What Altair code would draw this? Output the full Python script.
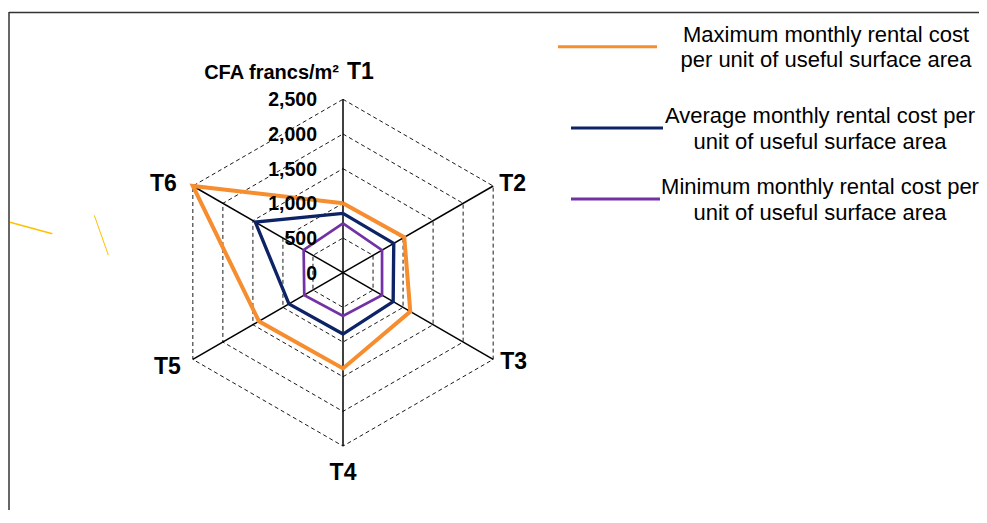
import altair as alt
import pandas as pd

# ---------------- data ----------------
axis_labels = ["T1", "T2", "T3", "T4", "T5", "T6"]
max_values = [1000, 1020, 1120, 1380, 1400, 2500]
avg_values = [855, 845, 835, 885, 900, 1460]
min_values = [710, 650, 650, 625, 645, 655]
series_keys = ["max", "avg", "min"]
series_labels = [
    "Maximum monthly rental cost\nper unit of useful surface area",
    "Average monthly rental cost per\nunit  of useful surface area",
    "Minimum monthly rental cost per\nunit of useful surface  area",
]
series_colors = ["#F68D2E", "#0E2366", "#7232A5"]
grid_levels = [500, 1000, 1500, 2000, 2500]
tick_values = [0, 500, 1000, 1500, 2000, 2500]
unit_label = "CFA francs/m²"
r_max = 2500

# ---------------- layout ----------------
PAD_L, PAD_T = 1, 4
W, H = 970, 498
CX, CY = 343 - 8 - PAD_L, 272.7 - 8 - PAD_T
R_PX = 173.4
k = R_PX / r_max
xscale = alt.Scale(domain=[-CX / k, (W - CX) / k], nice=False, zero=False)
yscale = alt.Scale(domain=[-(H - CY) / k, CY / k], nice=False, zero=False)
FONT = "Liberation Sans"

def pol(ch):
    return ch.transform_calculate(
        ang="PI/2 - datum.idx*PI/3",
        x="datum.value*cos(datum.ang)",
        y="datum.value*sin(datum.ang)",
    )

X = alt.X("x:Q", scale=xscale, axis=None)
Y = alt.Y("y:Q", scale=yscale, axis=None)

# series
rows = []
for key, vals in zip(series_keys, [max_values, avg_values, min_values]):
    for i in range(7):
        rows.append({"series": key, "idx": i, "value": vals[i % 6]})
series_df = pd.DataFrame(rows)

# grid
grid_df = pd.DataFrame([{"level": lv, "idx": i, "value": lv} for lv in grid_levels for i in range(7)])
spoke_df = pd.DataFrame([{"idx": i, "value": v} for i in range(6) for v in (0, r_max)])
tick_df = pd.DataFrame({"tick": tick_values})
lab_df = pd.DataFrame({"label": axis_labels, "idx": list(range(6)), "value": [r_max] * 6})

grid = pol(alt.Chart(grid_df)).mark_line(
    color="black", strokeWidth=0.9, strokeDash=[4, 3]
).encode(x=X, y=Y, order="idx:Q", detail="level:N")

spokes = pol(alt.Chart(spoke_df)).mark_line(color="black", strokeWidth=1.5).encode(
    x=X, y=Y, detail="idx:N", order="value:Q"
)

lines = pol(alt.Chart(series_df)).mark_line(strokeJoin="miter").encode(
    x=X, y=Y, order="idx:Q",
    color=alt.Color("series:N", scale=alt.Scale(domain=series_keys, range=series_colors), legend=None),
    strokeWidth=alt.StrokeWidth("series:N", scale=alt.Scale(domain=series_keys, range=[4, 2.7, 2.7]), legend=None),
)

ticks = alt.Chart(tick_df).transform_calculate(x="0", y="datum.tick").mark_text(
    align="right", baseline="middle", dx=-26, dy=1, font=FONT, fontSize=19.5, fontWeight="bold", color="black"
).encode(x=X, y=Y, text=alt.Text("tick:Q", format=","))

def axlab(i, **kw):
    return pol(alt.Chart(lab_df).transform_filter(f"datum.idx == {i}")).mark_text(
        font=FONT, fontSize=23, fontWeight="bold", color="black", **kw
    ).encode(x=X, y=Y, text="label:N")

labs = [
    axlab(0, align="left", baseline="alphabetic", dx=4, dy=-20),
    axlab(1, align="left", baseline="middle", dx=6, dy=-2),
    axlab(2, align="left", baseline="middle", dx=7, dy=3),
    axlab(3, align="center", baseline="middle", dy=27),
    axlab(4, align="right", baseline="middle", dx=-12, dy=8),
    axlab(5, align="right", baseline="middle", dx=-16, dy=-2),
]

unit = pol(alt.Chart(lab_df).transform_filter("datum.idx == 0")).transform_calculate(
    unit=f"'{unit_label}'"
).mark_text(
    font=FONT, fontSize=20, fontWeight="bold", color="black", align="right", baseline="alphabetic", dx=-4, dy=-20
).encode(x=X, y=Y, text="unit:N")

# legend (manual)
leg_pos = [  # (x1, x2, y, text_x) in page coordinates
    (558, 657, 46.7, 826),
    (571, 663, 128, 820),
    (571, 660, 199, 820),
]
legend_layers = []
for (x1, x2, y, tx), lab, col in zip(leg_pos, series_labels, series_colors):
    legend_layers.append(
        alt.Chart(pd.DataFrame({"label": [lab]})).mark_rule(color=col, strokeWidth=3).encode(
            x=alt.value(x1 - 8 - PAD_L), x2=alt.value(x2 - 8 - PAD_L), y=alt.value(y - 8 - PAD_T)
        )
    )
    legend_layers.append(
        alt.Chart(pd.DataFrame({"label": [lab]})).mark_text(
            font=FONT, fontSize=22, color="black", align="center", baseline="middle",
            lineBreak="\n", lineHeight=25.5
        ).encode(x=alt.value(tx - 8 - PAD_L), y=alt.value(y - 8 - PAD_T - 12), text="label:N")
    )

# frame + decorative strokes
frame_df = pd.DataFrame({"a": [0]})
frame_top = alt.Chart(frame_df).mark_rule(color="#333333", strokeWidth=1.5).encode(
    x=alt.value(0), x2=alt.value(W), y=alt.value(0.5)
)
frame_left = alt.Chart(frame_df).mark_rule(color="#333333", strokeWidth=1.5).encode(
    x=alt.value(0), y=alt.value(0), y2=alt.value(H)
)
deco1 = alt.Chart(frame_df).mark_rule(color="#FFC000", strokeWidth=1.5).encode(
    x=alt.value(10 - 9), y=alt.value(222.3 - 12), x2=alt.value(52.3 - 9), y2=alt.value(233.7 - 12)
)
deco2 = alt.Chart(frame_df).mark_rule(color="#FFC000", strokeWidth=1).encode(
    x=alt.value(94.3 - 9), y=alt.value(215.3 - 12), x2=alt.value(108.3 - 9), y2=alt.value(255 - 12)
)

chart = alt.layer(
    grid, spokes, lines, ticks, unit, *labs, *legend_layers, frame_top, frame_left, deco1, deco2
).properties(
    width=W, height=H,
    autosize=alt.AutoSizeParams(type="none"),
    padding={"left": PAD_L, "top": PAD_T, "right": 0, "bottom": 0},
).configure_view(stroke=None)

chart.save("out.html", embed_options={"renderer": "svg", "actions": False})
